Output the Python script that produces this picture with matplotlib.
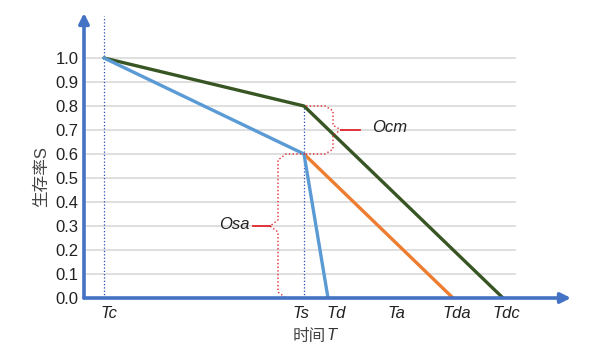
import matplotlib.pyplot as plt

plt.rcParams['font.family'] = ['Liberation Sans', 'Noto Sans CJK SC', 'DejaVu Sans']

# time points (arbitrary units)
Tc, Ts, Td, Tda, Tdc = 2.0, 22.0, 24.4, 36.9, 41.9
S_start, S_cm, S_sa = 1.0, 0.8, 0.6

green_x = [Tc, Ts, Tdc]
green_y = [S_start, S_cm, 0.0]
blue_x = [Tc, Ts, Td]
blue_y = [S_start, S_sa, 0.0]
orange_x = [Ts, Tda]
orange_y = [S_sa, 0.0]

xtick_labels = ['Tc', 'Ts', 'Td', 'Ta', 'Tda', 'Tdc']
xtick_pos = [2.5, 21.7, 25.2, 31.2, 37.3, 42.2]
yticks = [0.0, 0.1, 0.2, 0.3, 0.4, 0.5, 0.6, 0.7, 0.8, 0.9, 1.0]

W, H = 613, 357
fig = plt.figure(figsize=(W / 100, H / 100), dpi=100)
ax = fig.add_axes([84 / W, (H - 298) / H, (571 - 84) / W, (298 - 13) / H])
ax.set_xlim(0, 48.7)
ax.set_ylim(0, 1.1875)
for s in ax.spines.values():
    s.set_visible(False)

axis_col = '#4472c4'
grid_right = 43.2
ax.hlines(yticks[1:], 0, grid_right, color='#d9d9d9', lw=1.2, zorder=1)

ax.plot(green_x, green_y, color='#375623', lw=2.4, zorder=4, solid_capstyle='round')
ax.plot(blue_x, blue_y, color='#5b9bd5', lw=2.4, zorder=4, solid_capstyle='round')
ax.plot(orange_x, orange_y, color='#ed7d31', lw=2.4, zorder=3, solid_capstyle='round')

# dotted guide lines
ax.plot([Tc, Tc], [0, 1.175], color='#2a4bb5', lw=0.9, ls=':', zorder=2)
ax.plot([Ts, Ts], [0, S_cm], color='#2a4bb5', lw=0.9, ls=':', zorder=2)


def brace(x0, xb, y0, y1, tip_x, r=0.02, rx=0.8):
    sgn = 1 if xb > x0 else -1
    ym = (y0 + y1) / 2
    verts = [(x0, y1), (xb - sgn * rx, y1), (xb, y1 - r), (xb, ym + r),
             (xb + sgn * rx, ym), (xb, ym - r), (xb, y0 + r), (xb - sgn * rx, y0), (x0, y0)]
    ax.plot([v[0] for v in verts], [v[1] for v in verts], color='#e0262b',
            lw=1.0, ls=':', zorder=5)
    ax.plot([xb + sgn * rx, tip_x], [ym, ym], color='#e0262b', lw=1.3, zorder=5)


brace(Ts + 0.2, 24.9, S_sa, S_cm, 27.6)
brace(Ts + 0.1, 19.4, 0.0, S_sa, 16.9, r=0.025)

ax.text(30.6, 0.71, 'Ocm', fontsize=12, style='italic', ha='center', va='center', color='#222222')
ax.text(15.0, 0.308, 'Osa', fontsize=12, style='italic', ha='center', va='center', color='#222222')

# axes with arrows
ax.annotate('', xy=(48.7, 0), xytext=(0, 0),
            arrowprops=dict(arrowstyle='-|>', color=axis_col, lw=2.6,
                            mutation_scale=15, shrinkA=0, shrinkB=0),
            annotation_clip=False, zorder=6)
ax.annotate('', xy=(0, 1.1875), xytext=(0, 0),
            arrowprops=dict(arrowstyle='-|>', color=axis_col, lw=2.6,
                            mutation_scale=15, shrinkA=0, shrinkB=0),
            annotation_clip=False, zorder=6)

ax.set_yticks(yticks)
ax.set_yticklabels([f'{v:.1f}' for v in yticks], fontsize=12, color='#222222')
ax.set_xticks(xtick_pos)
ax.set_xticklabels(xtick_labels, fontsize=12, style='italic', color='#222222')
ax.tick_params(length=0, pad=4)
ax.tick_params(axis='x', pad=6)

fig.text(42 / W, 1 - 177 / H, '生存率S', rotation=90, fontsize=12,
         ha='center', va='center', color='#444444')
fig.text(325.5 / W, 1 - 336 / H, '时间', fontsize=12,
         ha='right', va='center', color='#444444')
fig.text(326.5 / W, 1 - 336 / H, 'T', fontsize=12, style='italic',
         ha='left', va='center', color='#333333')

fig.savefig('out.png', dpi=100, facecolor='white')
